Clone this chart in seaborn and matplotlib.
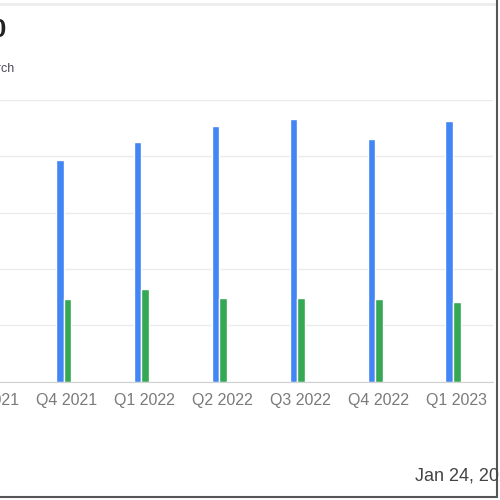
import pandas as pd
import matplotlib
matplotlib.use('Agg')
import matplotlib.pyplot as plt
import matplotlib.transforms as mtransforms
import seaborn as sns
from matplotlib.lines import Line2D

# Values (one gridline step = 1 unit)
quarters = ['Q3 2021', 'Q4 2021', 'Q1 2022', 'Q2 2022', 'Q3 2022', 'Q4 2022', 'Q1 2023']
revenue = [3.80, 3.93, 4.25, 4.53, 4.67, 4.31, 4.63]
net_income = [1.40, 1.46, 1.64, 1.48, 1.48, 1.46, 1.41]
series = ['Revenue', 'Net Income']
colors = ['#4285F4', '#34A853']

df = pd.DataFrame({
    'quarter': quarters * 2,
    'value': revenue + net_income,
    'series': [series[0]] * len(quarters) + [series[1]] * len(quarters),
})

sns.set_style('white')
plt.rcParams['font.family'] = ['Liberation Sans', 'DejaVu Sans']

fig = plt.figure(figsize=(5, 5), dpi=100)
# the chart is cropped on the left, so the axes start outside the figure
ax = fig.add_axes([-0.0756, 0.237, 1.0616, 0.563])

sns.barplot(data=df, x='quarter', y='value', hue='series', palette=colors,
            width=0.2, ax=ax, legend=False, saturation=1)

ax.set_xlim(-0.3, 6.51)
ax.set_ylim(0, 5)
ax.set_yticks([0, 1, 2, 3, 4, 5])
ax.set_yticklabels([])
ax.yaxis.grid(True, color='#ebebeb', linewidth=1)
ax.set_axisbelow(True)
for side in ['top', 'left', 'right']:
    ax.spines[side].set_visible(False)
ax.spines['bottom'].set_color('#d0d0d0')
ax.tick_params(axis='both', length=0)
ax.tick_params(axis='x', labelsize=11.5, labelcolor='#7a7a7a', pad=8)
ax.set_xlabel('')
ax.set_ylabel('')

# labels sit a few pixels right of the bar pairs in the original
shift = mtransforms.ScaledTranslation(3 / 100, 0, fig.dpi_scale_trans)
for lbl in ax.get_xticklabels():
    lbl.set_transform(lbl.get_transform() + shift)

# title / subtitle, cut by the left edge like in the screenshot
fig.text(0.012, 0.94, 'Revenue & Net Income 2020', ha='right', va='center',
         fontsize=19, fontweight='bold', color='#222222')
fig.text(0.028, 0.862, 'Quarterly results, research', ha='right', va='center',
         fontsize=9, color='#4a4a5a')

# date at the bottom right
fig.text(0.83, 0.048, 'Jan 24, 2024', ha='left', va='center',
         fontsize=13, color='#444444')

# card borders
fig.add_artist(Line2D([0, 0.99], [0.992, 0.992], color='#ececec', linewidth=2))
fig.add_artist(Line2D([0, 0.994], [0.006, 0.006], color='#555555', linewidth=1.5))
fig.add_artist(Line2D([0.994, 0.994], [0.006, 1], color='#555555', linewidth=1.5))

fig.savefig('out.png', dpi=100)
